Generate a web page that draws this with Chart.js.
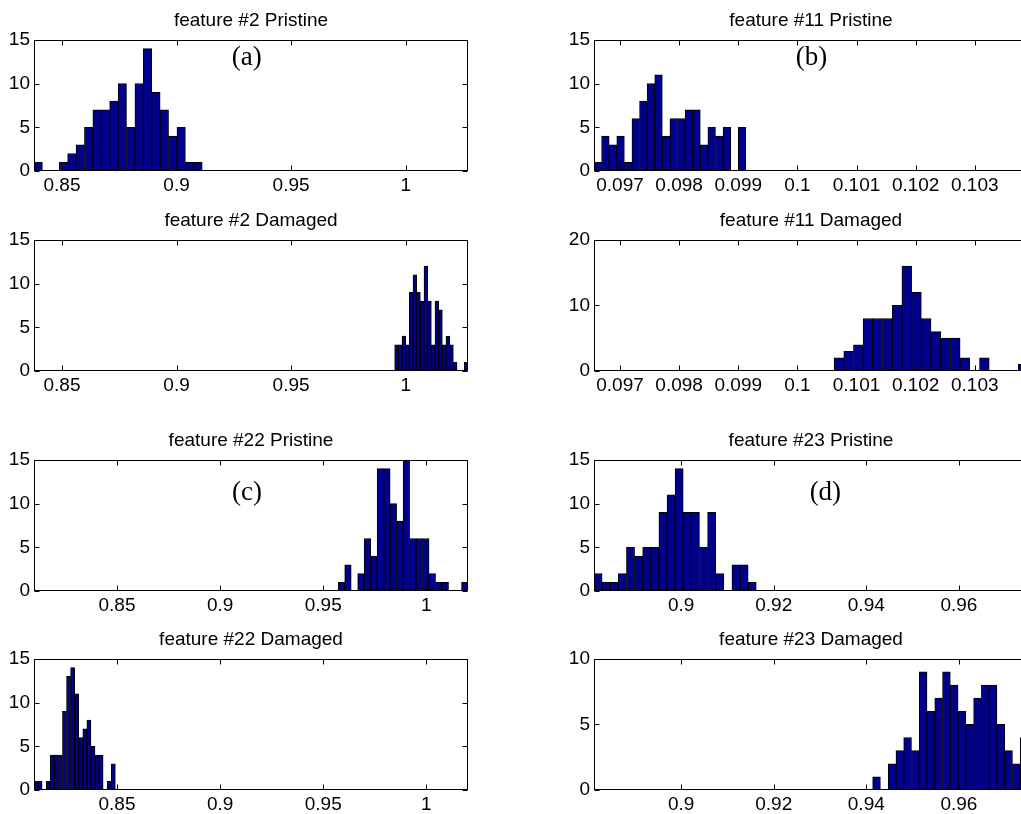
<!DOCTYPE html>
<html>
<head>
<meta charset="utf-8">
<script src="https://cdn.jsdelivr.net/npm/chart.js@4"></script>
<style>
  html, body { margin: 0; padding: 0; background: #fff; overflow: hidden; }
  body { width: 1021px; height: 814px; position: relative; }
  canvas { position: absolute; }
</style>
</head>
<body>
<canvas id="c2p" width="480" height="193" style="left:0px;top:8px"></canvas>
<canvas id="c2d" width="480" height="193" style="left:0px;top:208px"></canvas>
<canvas id="c22p" width="480" height="193" style="left:0px;top:428px"></canvas>
<canvas id="c22d" width="480" height="193" style="left:0px;top:627px"></canvas>
<canvas id="c11p" width="480" height="193" style="left:560px;top:8px"></canvas>
<canvas id="c11d" width="480" height="193" style="left:560px;top:208px"></canvas>
<canvas id="c23p" width="480" height="193" style="left:560px;top:428px"></canvas>
<canvas id="c23d" width="480" height="193" style="left:560px;top:627px"></canvas>
<script>
// histogram counts, 20 bins each
var f2Pristine  = [1,0,0,1,2,3,5,7,7,8,10,5,10,14,9,7,4,5,1,1];
var f2Damaged   = [3,3,4,3,9,11,9,8,12,8,3,8,7,3,4,3,1,0,0,1];
var f22Pristine = [1,3,0,2,6,4,14,14,10,8,15,6,6,6,2,1,1,0,0,1];
var f22Damaged  = [1,1,0,1,4,4,4,9,13,14,11,6,7,8,5,4,4,0,1,3];
var f11Pristine = [1,4,3,4,1,6,8,10,11,4,6,6,7,7,3,5,4,5,0,5];
var f11Damaged  = [2,3,4,8,8,8,10,16,12,8,6,5,5,2,0,2,0,0,0,1];
var f23Pristine = [2,1,1,2,5,4,5,5,9,11,14,9,9,5,9,2,0,3,3,1];
var f23Damaged  = [1,0,2,3,4,3,9,6,7,9,8,6,5,7,8,8,5,3,2,4];

// data range [min, max] covered by the bins
var f2PristineRange  = [0.8378, 0.9112];
var f2DamagedRange   = [0.9952, 1.0272];
var f22PristineRange = [0.95727, 1.0202];
var f22DamagedRange  = [0.80975, 0.84919];
var f11PristineRange = [0.09656, 0.099128];
var f11DamagedRange  = [0.10062, 0.10390];
var f23PristineRange = [0.88118, 0.91623];
var f23DamagedRange  = [0.94137, 0.97493];

// tick labels
var f2Ticks  = [0.85, 0.9, 0.95, 1];
var f22Ticks = [0.85, 0.9, 0.95, 1];
var f11Ticks = [0.097, 0.098, 0.099, 0.1, 0.101, 0.102, 0.103];
var f23Ticks = [0.9, 0.92, 0.94, 0.96];

var barColor = 'rgb(0,0,140)';

// matlab style box with inward ticks, plus the (a)..(d) labels
var boxPlugin = {
  id: 'matlabBox',
  afterDraw: function(chart, args, opts) {
    var ctx = chart.ctx, a = chart.chartArea;
    var xs = chart.scales.x, ys = chart.scales.y;
    var L = Math.round(a.left) + 0.5, R = Math.round(a.right) - 0.5;
    var T = Math.round(a.top) + 0.5, B = Math.round(a.bottom) - 0.5;
    ctx.save();
    ctx.strokeStyle = '#000';
    ctx.lineWidth = 1;
    ctx.strokeRect(L, T, R - L, B - T);
    ctx.beginPath();
    xs.ticks.forEach(function(t) {
      var px = Math.round(xs.getPixelForValue(t.value)) + 0.5;
      ctx.moveTo(px, B); ctx.lineTo(px, B - 5);
      ctx.moveTo(px, T); ctx.lineTo(px, T + 5);
    });
    ys.ticks.forEach(function(t) {
      var py = Math.round(ys.getPixelForValue(t.value)) + 0.5;
      ctx.moveTo(L, py); ctx.lineTo(L + 5, py);
      ctx.moveTo(R, py); ctx.lineTo(R - 5, py);
    });
    ctx.stroke();
    if (opts.label) {
      ctx.font = '27px "Liberation Serif", "Times New Roman", serif';
      ctx.fillStyle = '#000';
      ctx.textAlign = 'center';
      ctx.textBaseline = 'middle';
      ctx.fillText(opts.label.text, xs.getPixelForValue(opts.label.x), ys.getPixelForValue(opts.label.y));
    }
    ctx.restore();
  }
};

function bins(counts, range) {
  var w = (range[1] - range[0]) / counts.length;
  var out = [];
  for (var i = 0; i < counts.length; i++) {
    if (counts[i] > 0) out.push({ x: range[0] + (i + 0.5) * w, y: counts[i] });
  }
  return out;
}

function makeHist(id, title, counts, range, xlim, xticks, ymax, ystep, label) {
  var font = { family: '"Liberation Sans", Arial, sans-serif', size: 19 };
  new Chart(document.getElementById(id), {
    type: 'bar',
    data: {
      datasets: [{
        data: bins(counts, range),
        backgroundColor: barColor,
        borderColor: '#000',
        borderWidth: 1,
        barPercentage: 1,
        categoryPercentage: 1
      }]
    },
    options: {
      responsive: false,
      animation: false,
      devicePixelRatio: 1,
      layout: { padding: { left: 0, right: 12, top: 0, bottom: 0 } },
      plugins: {
        legend: { display: false },
        tooltip: { enabled: false },
        title: {
          display: true,
          text: title,
          fullSize: false,
          color: '#000',
          font: { family: font.family, size: 19, weight: 'normal', lineHeight: 1.2 },
          padding: { top: 1, bottom: 8 }
        },
        matlabBox: { label: label }
      },
      scales: {
        x: {
          type: 'linear',
          min: xlim[0],
          max: xlim[1],
          offset: false,
          grid: { display: false, drawTicks: false },
          border: { display: false },
          afterBuildTicks: function(s) { s.ticks = xticks.map(function(v) { return { value: v }; }); },
          afterFit: function(s) { s.height = 30; },
          ticks: {
            autoSkip: false,
            maxRotation: 0,
            padding: 3,
            color: '#000',
            font: font,
            callback: function(v) { return String(v); }
          }
        },
        y: {
          min: 0,
          max: ymax,
          grid: { display: false, drawTicks: false },
          border: { display: false },
          afterFit: function(s) { s.width = 34; },
          ticks: { stepSize: ystep, padding: 4, color: '#000', font: font }
        }
      }
    },
    plugins: [boxPlugin]
  });
}

var f2Lim  = [f2PristineRange[0], f2DamagedRange[1]];
var f22Lim = [f22DamagedRange[0], f22PristineRange[1]];
var f11Lim = [f11PristineRange[0], f11DamagedRange[1]];
var f23Lim = [f23PristineRange[0], f23DamagedRange[1]];

makeHist('c2p', 'feature #2 Pristine', f2Pristine, f2PristineRange, f2Lim, f2Ticks, 15, 5, { text: '(a)', x: 0.9306, y: 12.9 });
makeHist('c2d', 'feature #2 Damaged', f2Damaged, f2DamagedRange, f2Lim, f2Ticks, 15, 5, null);
makeHist('c22p', 'feature #22 Pristine', f22Pristine, f22PristineRange, f22Lim, f22Ticks, 15, 5, { text: '(c)', x: 0.9130, y: 11.2 });
makeHist('c22d', 'feature #22 Damaged', f22Damaged, f22DamagedRange, f22Lim, f22Ticks, 15, 5, null);
makeHist('c11p', 'feature #11 Pristine', f11Pristine, f11PristineRange, f11Lim, f11Ticks, 15, 5, { text: '(b)', x: 0.10024, y: 12.9 });
makeHist('c11d', 'feature #11 Damaged', f11Damaged, f11DamagedRange, f11Lim, f11Ticks, 20, 10, null);
makeHist('c23p', 'feature #23 Pristine', f23Pristine, f23PristineRange, f23Lim, f23Ticks, 15, 5, { text: '(d)', x: 0.93116, y: 11.2 });
makeHist('c23d', 'feature #23 Damaged', f23Damaged, f23DamagedRange, f23Lim, f23Ticks, 10, 5, null);
</script>
</body>
</html>
